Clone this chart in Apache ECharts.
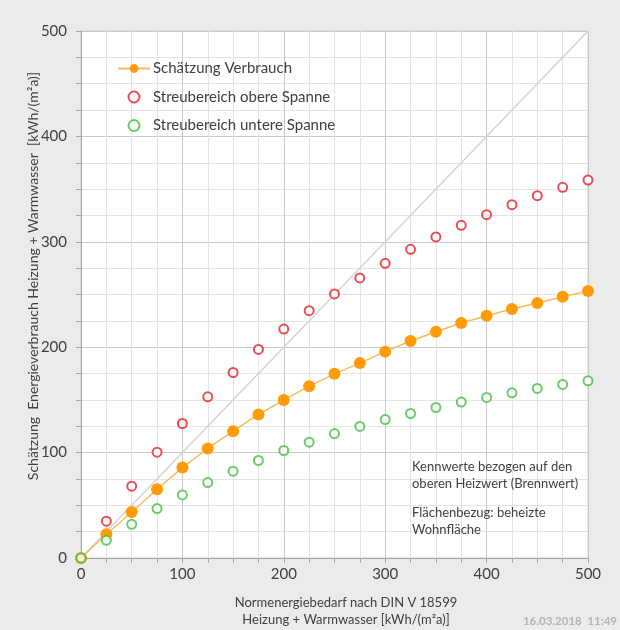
<!DOCTYPE html>
<html>
<head>
<meta charset="utf-8">
<script src="https://cdn.jsdelivr.net/npm/echarts@6/dist/echarts.min.js"></script>
<style>
  html, body { margin: 0; padding: 0; background: #ebebeb; }
  #chart { width: 620px; height: 630px; }
</style>
</head>
<body>
<div id="chart"></div>
<script>
// Normenergiebedarf (x) in kWh/(m²a)
var bedarf = [0, 25, 50, 75, 100, 125, 150, 175, 200, 225, 250, 275, 300, 325, 350, 375, 400, 425, 450, 475, 500];
// geschätzter Verbrauch
var schaetzung = [0, 22.5, 43.7, 65.2, 85.8, 103.9, 120.3, 136.2, 149.8, 163, 174.7, 184.9, 195.8, 205.9, 214.7, 222.9, 229.9, 236.2, 241.9, 247.9, 253.3];
// Streubereich obere Spanne
var obereSpanne = [0, 34.9, 68.1, 100.4, 127.6, 152.9, 176, 197.9, 217.2, 234.6, 250.5, 265.7, 279.6, 292.9, 304.6, 315.6, 325.7, 335.2, 343.8, 351.7, 358.6];
// Streubereich untere Spanne
var untereSpanne = [0, 16.8, 32, 46.9, 59.8, 71.6, 82.3, 92.5, 102, 109.9, 118.1, 124.8, 131.4, 137.1, 142.8, 147.9, 152.3, 156.7, 160.9, 164.7, 168.1];
// Diagonale Verbrauch = Bedarf
var diagonale = [[0, 0], [500, 500]];
var axisTicks = [0, 100, 200, 300, 400, 500];

function pairs(ys) {
  return bedarf.map(function (x, i) { return [x, ys[i]]; });
}

var FONT = 'Lato';
var chart = echarts.init(document.getElementById('chart'), null, { renderer: 'canvas' });

var axisCommon = {
  type: 'value',
  min: axisTicks[0],
  max: axisTicks[axisTicks.length - 1],
  interval: 100,
  axisLine: { show: true, lineStyle: { color: '#a6a6a6', width: 1 } },
  axisTick: { show: true, length: 5, lineStyle: { color: '#a6a6a6' } },
  minorTick: { show: true, splitNumber: 4, length: 5, lineStyle: { color: '#a6a6a6' } },
  splitLine: { show: true, lineStyle: { color: '#c9c9c9', width: 1 } },
  minorSplitLine: { show: true, lineStyle: { color: '#e4e4e4', width: 1 } },
  axisLabel: { color: '#404040', fontSize: 15, fontFamily: FONT }
};

chart.setOption({
  backgroundColor: '#ebebeb',
  animation: false,
  textStyle: { fontFamily: FONT },
  grid: {
    left: 81, top: 31, right: 32, bottom: 72,
    show: true, backgroundColor: '#ffffff', borderColor: '#d0d0d0', borderWidth: 1
  },
  xAxis: Object.assign({}, axisCommon, {
    axisLabel: Object.assign({}, axisCommon.axisLabel, { margin: 9 })
  }),
  yAxis: Object.assign({}, axisCommon, {
    axisLabel: Object.assign({}, axisCommon.axisLabel, { margin: 14 })
  }),
  legend: {
    data: ['Schätzung Verbrauch', 'Streubereich obere Spanne', 'Streubereich untere Spanne'],
    orient: 'vertical',
    left: 117,
    top: 61,
    padding: 0,
    itemWidth: 32,
    itemHeight: 11,
    itemGap: 13.5,
    textStyle: { color: '#404040', fontSize: 15, fontFamily: FONT, padding: [0, 0, 0, -2] }
  },
  graphic: [
    {
      type: 'text', x: 33, y: 276, rotation: Math.PI / 2, z: 100,
      style: {
        text: 'Schätzung  Energieverbrauch Heizung + Warmwasser  [kWh/(m²a)]',
        fill: '#404040', font: '14px ' + FONT, align: 'center', verticalAlign: 'middle'
      }
    },
    {
      type: 'text', x: 346, y: 603, z: 100,
      style: { text: 'Normenergiebedarf nach DIN V 18599', fill: '#404040', font: '13px ' + FONT, align: 'center', verticalAlign: 'middle' }
    },
    {
      type: 'text', x: 346, y: 620, z: 100,
      style: { text: 'Heizung + Warmwasser [kWh/(m²a)]', fill: '#404040', font: '13px ' + FONT, align: 'center', verticalAlign: 'middle' }
    },
    {
      type: 'text', x: 412, y: 458, z: 100,
      style: { text: 'Kennwerte bezogen auf den\noberen Heizwert (Brennwert)', fill: '#404040', font: '13px ' + FONT, lineHeight: 17 }
    },
    {
      type: 'text', x: 412, y: 504, z: 100,
      style: { text: 'Flächenbezug: beheizte\nWohnfläche', fill: '#404040', font: '13px ' + FONT, lineHeight: 17 }
    },
    {
      type: 'text', x: 617, y: 621, z: 100,
      style: { text: '16.03.2018  11:49', fill: '#b4b4b4', font: 'bold 11.5px ' + FONT, align: 'right', verticalAlign: 'middle' }
    }
  ],
  series: [
    {
      name: 'Diagonale', type: 'line', data: diagonale, silent: true,
      symbol: 'none', lineStyle: { color: '#d4d4d4', width: 1.5 }, z: 1
    },
    {
      name: 'Streubereich obere Spanne', type: 'scatter', data: pairs(obereSpanne),
      symbol: 'emptyCircle', symbolSize: 9,
      itemStyle: { color: '#e8202a', borderColor: '#e8202a', borderWidth: 2 }, z: 2
    },
    {
      name: 'Schätzung Verbrauch', type: 'line', data: pairs(schaetzung),
      symbol: 'circle', symbolSize: 12, showSymbol: true,
      lineStyle: { color: '#f7bb5e', width: 1.5 },
      itemStyle: { color: '#ff9b05', borderWidth: 0 }, z: 3
    },
    {
      name: 'Streubereich untere Spanne', type: 'scatter', data: pairs(untereSpanne),
      symbol: 'emptyCircle', symbolSize: 9,
      itemStyle: { color: '#44c044', borderColor: '#44c044', borderWidth: 2 }, z: 4
    }
  ]
});
</script>
</body>
</html>
